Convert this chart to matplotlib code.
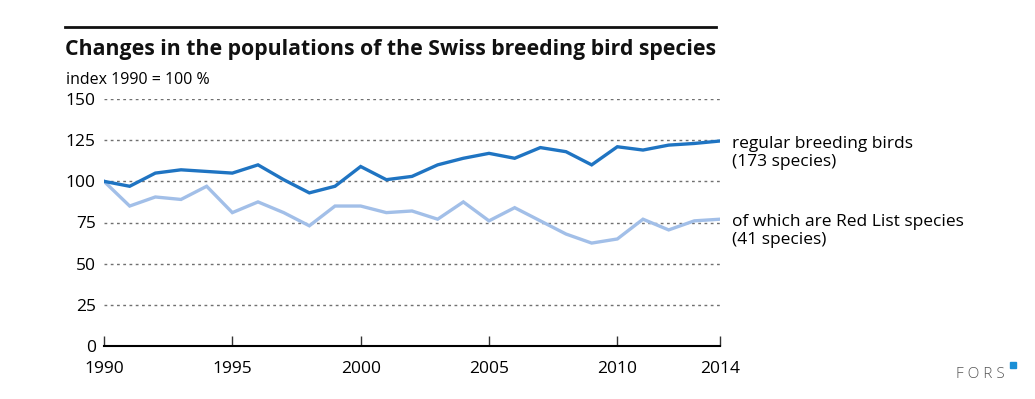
import numpy as np
import matplotlib.pyplot as plt
from matplotlib.patches import Rectangle

plt.rcParams['font.family'] = ['Open Sans', 'DejaVu Sans']

# index 1990 = 100
years = np.arange(1990, 2015)
regular = [100, 97, 105, 107, 106, 105, 110, 101, 93, 97, 109, 101, 103, 110,
           114, 117, 114, 120.5, 118, 110, 121, 119, 122, 123, 124.5]
redlist = [100, 85, 90.5, 89, 97, 81, 87.5, 81, 73, 85, 85, 81, 82, 77,
           87.5, 76, 84, 76, 68, 62.5, 65, 77, 70.5, 76, 77]
xticks = [1990, 1995, 2000, 2005, 2010, 2014]
yticks = [0, 25, 50, 75, 100, 125, 150]
labels = ['regular breeding birds\n(173 species)',
          'of which are Red List species\n(41 species)']

dark = '#1f74c2'
light = '#a2bfe8'
W, H = 1035, 399

fig = plt.figure(figsize=(W / 100, H / 100), dpi=100)
ax = fig.add_axes([104 / W, 1 - 346 / H, 616 / W, 247 / H])

for y in yticks[1:]:
    ax.axhline(y, color='#707070', lw=1, ls=(0, (2, 2.5)), zorder=1)

ax.plot(years, redlist, color=light, lw=2.4, zorder=3, solid_joinstyle='miter')
ax.plot(years, regular, color=dark, lw=2.4, zorder=4, solid_joinstyle='miter')

ax.set_xlim(1990, 2014)
ax.set_ylim(0, 150)
ax.set_xticks(xticks)
ax.set_yticks(yticks)
ax.tick_params(axis='x', direction='in', length=7, width=1, color='#333333',
               labelsize=12.5, pad=11)
ax.tick_params(axis='y', length=0, labelsize=12.5, pad=6)
for s in ['top', 'right', 'left']:
    ax.spines[s].set_visible(False)
ax.spines['bottom'].set_linewidth(1.5)
ax.spines['bottom'].set_zorder(5)

# end-of-line labels (baseline anchors the last line)
ax.annotate(labels[0], xy=(2014, regular[-1]), xytext=(9, -18),
            textcoords='offset points', fontsize=12.5, va='baseline', ha='left',
            linespacing=1.2)
ax.annotate(labels[1], xy=(2014, redlist[-1]), xytext=(9, -18),
            textcoords='offset points', fontsize=12.5, va='baseline', ha='left',
            linespacing=1.2)

# title block
fig.add_artist(plt.Line2D([65 / W, 716 / W], [1 - 27 / H] * 2, color='#111111', lw=2))
fig.text(65 / W, 1 - 49 / H, 'Changes in the populations of the Swiss breeding bird species',
         fontsize=15.3, fontweight='bold', va='center', ha='left', color='#111111')
fig.text(66 / W, 1 - 80 / H, 'index 1990 = 100 %', fontsize=11.5, va='center', ha='left')

# FORS mark
fig.text(1005 / W, 1 - 374 / H, 'F O R S', fontsize=11, color='#555555',
         va='center', ha='right', fontweight='light')
fig.add_artist(Rectangle((1010 / W, 1 - 368 / H), 6 / W, 6 / H, color='#1a8fd6',
                         transform=fig.transFigure))

fig.savefig('out.png', dpi=100)
